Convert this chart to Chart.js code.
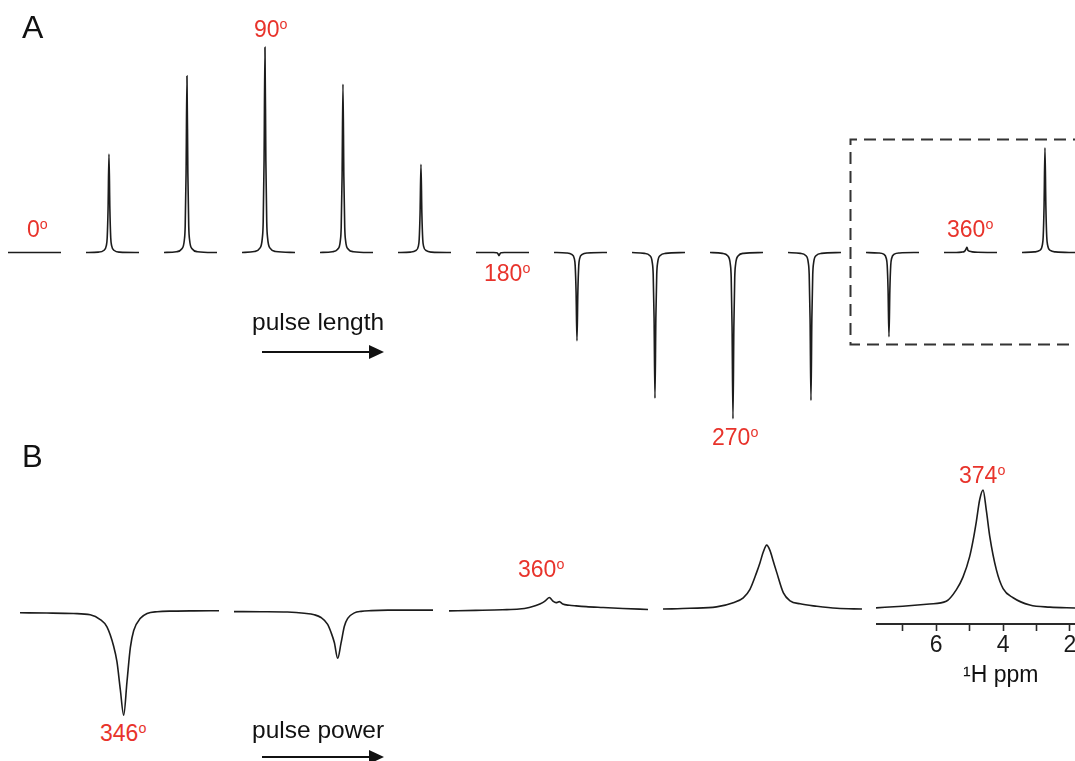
<!DOCTYPE html>
<html>
<head>
<meta charset="utf-8">
<script src="https://cdn.jsdelivr.net/npm/chart.js@4.4.1/dist/chart.umd.min.js"></script>
<style>
    html, body { margin: 0; padding: 0; background: #fff; }
    #figura { position: relative; width: 1075px; height: 761px; overflow: hidden; font-family: "Liberation Sans", Arial, sans-serif; }
    #figura canvas { position: absolute; }
    .rotulo { position: absolute; white-space: nowrap; line-height: 1; }
    .rotulo sup { font-size: 0.62em; vertical-align: baseline; position: relative; top: -0.52em; }
    #sobreposicao { position: absolute; left: 0; top: 0; }
</style>
</head>
<body>
<div id="figura"></div>
<script>
// ppm grid shared by the spectra of panel A (pulse length series)
const ppmA = [7.3, 5.9, 5.3, 5.0, 4.9, 4.8, 4.7, 4.6, 4.5, 4.4, 4.1, 3.5, 1.3];

// intensities (90 deg peak = 100)
const espectrosA = [
    [0, 0, 0, 0, 0, 0, 0, 0, 0, 0, 0, 0, 0],
    [0, 0.2, 1, 3.4, 7.2, 21.6, 48, 21.6, 7.2, 3.4, 1, 0.2, 0],
    [0, 0.4, 1.7, 6, 12.9, 38.7, 86, 38.7, 12.9, 6, 1.7, 0.4, 0],
    [0, 0.5, 2, 7, 15, 45, 100, 45, 15, 7, 2, 0.5, 0],
    [0, 0.4, 1.6, 5.7, 12.3, 36.9, 82, 36.9, 12.3, 5.7, 1.6, 0.4, 0],
    [0, 0.2, 0.9, 3, 6.5, 19.4, 43, 19.4, 6.5, 3, 0.9, 0.2, 0],
    [0, 0, 0, -0.1, -0.2, -0.7, -1.5, -0.7, -0.2, -0.1, 0, 0, 0],
    [0, -0.2, -0.9, -3, -6.5, -19.4, -43, -19.4, -6.5, -3, -0.9, -0.2, 0],
    [0, -0.4, -1.4, -5, -10.7, -32, -71, -32, -10.7, -5, -1.4, -0.4, 0],
    [0, -0.4, -1.6, -5.7, -12.2, -36.5, -81, -36.5, -12.2, -5.7, -1.6, -0.4, 0],
    [0, -0.4, -1.4, -5, -10.8, -32.4, -72, -32.4, -10.8, -5, -1.4, -0.4, 0],
    [0, -0.2, -0.8, -2.9, -6.2, -18.5, -41, -18.5, -6.2, -2.9, -0.8, -0.2, 0],
    [0, 0, 0.2, 0.5, 1, 1.8, 2.5, 1.2, 0.8, 0.6, 0.3, 0.1, 0],
    [0, 0.3, 1, 3.6, 7.7, 23, 51, 23, 7.7, 3.6, 1, 0.3, 0]
];

// ppm grid shared by the spectra of panel B (pulse power series)
const ppmB = [7.8, 7.0, 6.2, 5.7, 5.4, 5.2, 5.0, 4.9, 4.8, 4.7, 4.6, 4.5, 4.4, 4.2, 4.0, 3.7, 3.2, 2.6, 1.85];

// intensities (374 deg peak = 100)
const espectrosB = [
    [-1.4, -1.6, -2, -3, -7, -13, -29, -42, -65, -86, -58, -30, -16, -6, -2, -0.5, 0, 0.2, 0.3],
    [-0.4, -0.5, -0.8, -1.8, -3, -5.3, -11, -17.5, -26, -39, -26.5, -12.5, -6, -1.5, -0.2, 0.4, 0.8, 0.8, 0.8],
    [0.2, 0.6, 1.1, 1.7, 3, 4.6, 7, 9, 11.3, 8.5, 7, 7.8, 5.8, 4.8, 4.3, 3.7, 3, 2.2, 1.3],
    [1.7, 2.3, 3.5, 7, 11, 18, 32, 40, 49, 54.5, 50, 41, 32, 15, 8.5, 6, 4, 2.3, 1.7],
    [2.6, 4, 5.8, 8, 17.5, 28, 45, 58, 74, 92, 100, 83, 62, 34, 18.5, 11, 5, 3.2, 2.5]
];

// flip angle labels
const grausA = ['0', '90', '180', '270', '360'];
const grausB = ['346', '360', '374'];

// x axis ticks of the last panel B spectrum
const ticksPpm = [7, 6, 5, 4, 3, 2];
const ticksComRotulo = [6, 4, 2];

const figura = document.getElementById('figura');
const fonte = '"Liberation Sans", Arial, sans-serif';
const corLinha = '#1c1c1c';
const corVermelha = '#e8332b';

function criarCanvas(x, y, w, h) {
    const c = document.createElement('canvas');
    c.width = w;
    c.height = h;
    c.style.left = x + 'px';
    c.style.top = y + 'px';
    c.style.width = w + 'px';
    c.style.height = h + 'px';
    figura.appendChild(c);
    return c;
}

function construirEspectro(canvas, ppm, valores, faixaX, faixaY, eixo) {
    let data = {
        datasets: [{
            data: ppm.map((p, i) => ({ x: p, y: valores[i] })),
            borderColor: corLinha,
            borderWidth: 1.6,
            pointRadius: 0,
            cubicInterpolationMode: 'monotone',
            fill: false
        }]
    }

    let eixoX = {
        type: 'linear',
        reverse: true,
        min: faixaX[1],
        max: faixaX[0],
        display: false
    }

    if (eixo) {
        eixoX = {
            type: 'linear',
            reverse: true,
            min: faixaX[1],
            max: faixaX[0],
            display: true,
            position: 'bottom',
            border: { display: true, color: '#2a2a2a', width: 2 },
            grid: {
                drawOnChartArea: false,
                drawTicks: true,
                tickLength: 7,
                tickColor: '#2a2a2a',
                tickWidth: 1.6
            },
            ticks: {
                stepSize: 1,
                includeBounds: false,
                autoSkip: false,
                maxRotation: 0,
                padding: 1,
                color: '#1a1a1a',
                font: { family: fonte, size: 23 },
                callback: (v) => ticksComRotulo.includes(v) ? String(v) : ''
            },
            afterBuildTicks: (scale) => {
                scale.ticks = ticksPpm.map((v) => ({ value: v }));
            },
            afterFit: (scale) => {
                scale.height = 60;
                scale.paddingLeft = 0;
                scale.paddingRight = 0;
            }
        }
    }

    let options = {
        responsive: false,
        animation: false,
        devicePixelRatio: 1,
        layout: { padding: 0 },
        plugins: {
            legend: { display: false },
            tooltip: { enabled: false }
        },
        scales: {
            x: eixoX,
            y: { min: faixaY[0], max: faixaY[1], display: false }
        }
    }

    return new Chart(canvas, { type: 'line', data: data, options: options });
}

// panel A: 14 narrow spectra side by side
espectrosA.forEach((valores, i) => {
    const canvas = criarCanvas(8 + 78 * i, 37, 53, 390);
    construirEspectro(canvas, ppmA, valores, [7.3, 1.3], [-85, 105], false);
});

// panel B: 5 wider spectra, the last one carries the ppm axis
const esquerdasB = [20, 234, 449, 663, 876];
espectrosB.forEach((valores, i) => {
    if (i === espectrosB.length - 1) {
        const canvas = criarCanvas(esquerdasB[i], 478, 199, 206);
        construirEspectro(canvas, ppmB, valores, [7.8, 1.85], [-10.74, 110], true);
    } else {
        const canvas = criarCanvas(esquerdasB[i], 478, 199, 242);
        construirEspectro(canvas, ppmB, valores, [7.8, 1.85], [-90, 110], false);
    }
});

// text labels, placed by left edge and baseline
function rotulo(html, x, baseline, tamanho, cor) {
    const d = document.createElement('div');
    d.className = 'rotulo';
    d.innerHTML = html;
    d.style.left = x + 'px';
    d.style.top = (baseline - 0.8465 * tamanho) + 'px';
    d.style.fontSize = tamanho + 'px';
    d.style.color = cor;
    figura.appendChild(d);
}

const posGrausA = [[27, 237], [254, 37], [484, 281], [712, 445], [947, 237]];
const posGrausB = [[100, 741], [518, 577], [959, 483]];

grausA.forEach((g, i) => rotulo(`${g}<sup>o</sup>`, posGrausA[i][0], posGrausA[i][1], 23, corVermelha));
grausB.forEach((g, i) => rotulo(`${g}<sup>o</sup>`, posGrausB[i][0], posGrausB[i][1], 23, corVermelha));

rotulo('A', 22, 38, 32, '#111');
rotulo('B', 22, 467, 31, '#111');
rotulo('pulse length', 252, 331, 24.5, '#111');
rotulo('pulse power', 252, 739, 24.5, '#111');
rotulo('¹H ppm', 963, 682, 23, '#111');

// dashed box and arrows
const svgNS = 'http://www.w3.org/2000/svg';
const svg = document.createElementNS(svgNS, 'svg');
svg.setAttribute('id', 'sobreposicao');
svg.setAttribute('width', 1075);
svg.setAttribute('height', 761);
svg.innerHTML = `
    <path d="M1085,139.5 H850.5 V344.5 H1085" fill="none" stroke="#333" stroke-width="2" stroke-dasharray="12 7"/>
    <line x1="262" y1="352" x2="372" y2="352" stroke="#111" stroke-width="2"/>
    <polygon points="384,352 369,345 369,359" fill="#111"/>
    <line x1="262" y1="757" x2="372" y2="757" stroke="#111" stroke-width="2"/>
    <polygon points="384,757 369,750 369,764" fill="#111"/>
`;
figura.appendChild(svg);
</script>
</body>
</html>
